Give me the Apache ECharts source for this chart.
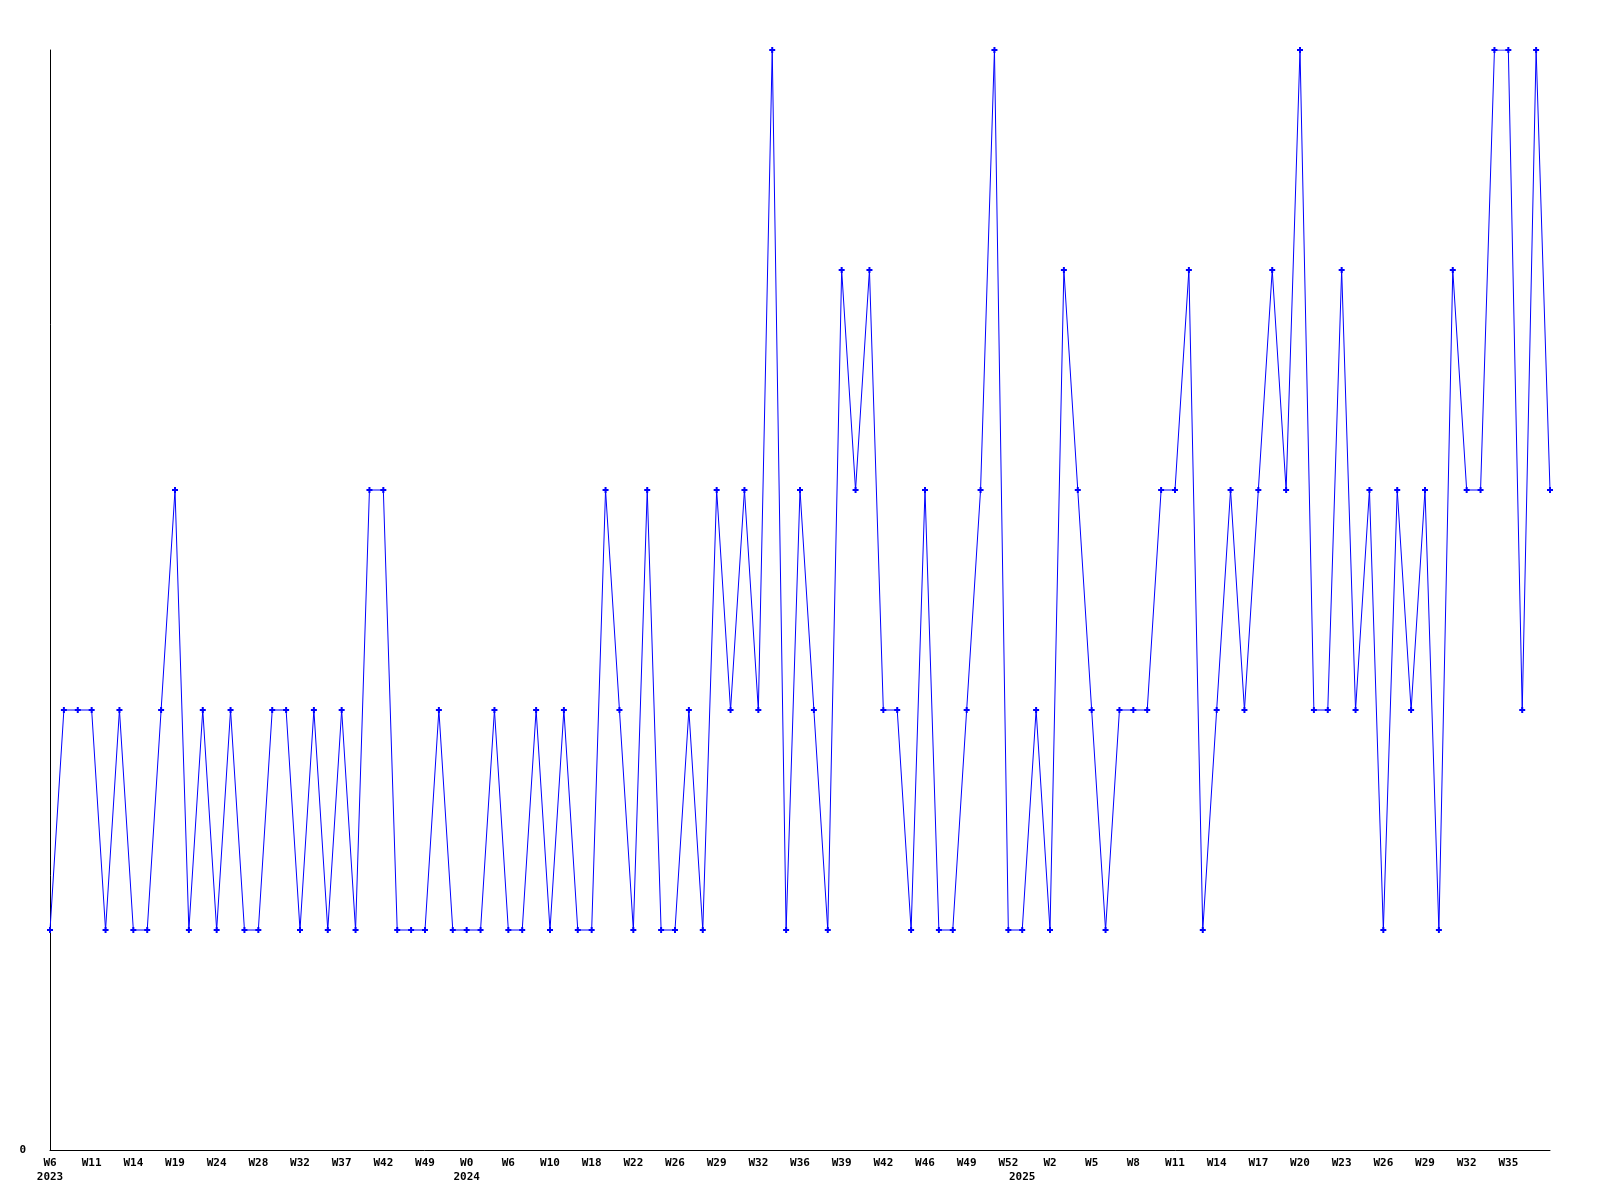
<!DOCTYPE html>
<html>
<head>
<meta charset="utf-8">
<script src="https://cdn.jsdelivr.net/npm/echarts@6/dist/echarts.min.js"></script>
<style>
html,body{margin:0;padding:0;background:#fff;}
#chart{width:1600px;height:1200px;}
</style>
</head>
<body>
<div id="chart"></div>
<script>
// Week categories (year, week label)
const years = [
  2023,2023,2023,2023,2023,2023,2023,2023,2023,2023,
  2023,2023,2023,2023,2023,2023,2023,2023,2023,2023,
  2023,2023,2023,2023,2023,2023,2023,2023,2023,2023,
  2024,2024,2024,2024,2024,2024,2024,2024,2024,2024,
  2024,2024,2024,2024,2024,2024,2024,2024,2024,2024,
  2024,2024,2024,2024,2024,2024,2024,2024,2024,2024,
  2024,2024,2024,2024,2024,2024,2024,2024,2024,2024,
  2025,2025,2025,2025,2025,2025,2025,2025,2025,2025,
  2025,2025,2025,2025,2025,2025,2025,2025,2025,2025,
  2025,2025,2025,2025,2025,2025,2025,2025,2025,2025,
  2025,2025,2025,2025,2025,2025,2025,2025,2025
];
const weeks = [
  'W6','W7','W9','W11','W12','W13','W14','W16','W17','W19',
  'W21','W22','W24','W25','W27','W28','W29','W31','W32','W34',
  'W35','W37','W39','W40','W42','W44','W46','W49','W50','W51',
  'W0','W2','W4','W6','W7','W9','W10','W13','W15','W18',
  'W19','W21','W22','W23','W25','W26','W27','W28','W29','W30',
  'W31','W32','W33','W35','W36','W37','W38','W39','W40','W41',
  'W42','W43','W45','W46','W47','W48','W49','W50','W51','W52',
  'W0','W1','W2','W3','W4','W5','W6','W7','W8','W9',
  'W10','W11','W12','W13','W14','W15','W16','W17','W18','W19',
  'W20','W21','W22','W23','W24','W25','W26','W27','W28','W29',
  'W30','W31','W32','W33','W34','W35','W36','W37','W38'
];
const values = [
  1,2,2,2,1,2,1,1,2,3,
  1,2,1,2,1,1,2,2,1,2,
  1,2,1,3,3,1,1,1,2,1,
  1,1,2,1,1,2,1,2,1,1,
  3,2,1,3,1,1,2,1,3,2,
  3,2,5,1,3,2,1,4,3,4,
  2,2,1,3,1,1,2,3,5,1,
  1,2,1,4,3,2,1,2,2,2,
  3,3,4,1,2,3,2,3,4,3,
  5,2,2,4,2,3,1,3,2,3,
  1,4,3,3,5,5,2,5,3
];
const yTickLabels = ['0'];

const categories = weeks.map((w, i) => years[i] + ' ' + w);
const lastIdx = categories.length - 1;
function isYearStart(i) { return i === 0 || years[i] !== years[i - 1]; }
function hasWeekLabel(i) { return i % 3 === 0 && i !== lastIdx; }

const chart = echarts.init(document.getElementById('chart'), null, {renderer: 'canvas'});
chart.setOption({
  animation: false,
  backgroundColor: '#ffffff',
  grid: {left: 50, right: 50, top: 50, bottom: 50, containLabel: false},
  xAxis: {
    type: 'category',
    data: categories,
    boundaryGap: false,
    axisLine: {show: true, lineStyle: {color: '#000', width: 1}},
    axisTick: {show: false},
    splitLine: {show: false},
    axisLabel: {
      interval: 0,
      hideOverlap: false,
      margin: 6,
      fontFamily: 'DejaVu Sans Mono',
      fontWeight: 'bold',
      fontSize: 11,
      lineHeight: 14,
      color: '#000',
      formatter: function (v, i) {
        const w = hasWeekLabel(i) ? weeks[i] : '';
        return isYearStart(i) ? (w + '\n' + years[i]) : w;
      }
    }
  },
  yAxis: {
    type: 'value',
    min: 0,
    max: 5,
    interval: 5,
    axisLine: {show: true, lineStyle: {color: '#000', width: 1}},
    axisTick: {show: false},
    splitLine: {show: false},
    axisLabel: {
      margin: 24,
      fontFamily: 'DejaVu Sans Mono',
      fontWeight: 'bold',
      fontSize: 11,
      color: '#000',
      formatter: function (v) { return v === 0 ? yTickLabels[0] : ''; }
    }
  },
  series: [{
    type: 'line',
    data: values,
    lineStyle: {color: '#0000ff', width: 1},
    itemStyle: {color: '#0000ff'},
    symbol: 'path://M2,0 L4,0 L4,2 L6,2 L6,4 L4,4 L4,6 L2,6 L2,4 L0,4 L0,2 L2,2 Z',
    symbolSize: 6,
    showSymbol: true,
    showAllSymbol: true
  }]
});
</script>
</body>
</html>
